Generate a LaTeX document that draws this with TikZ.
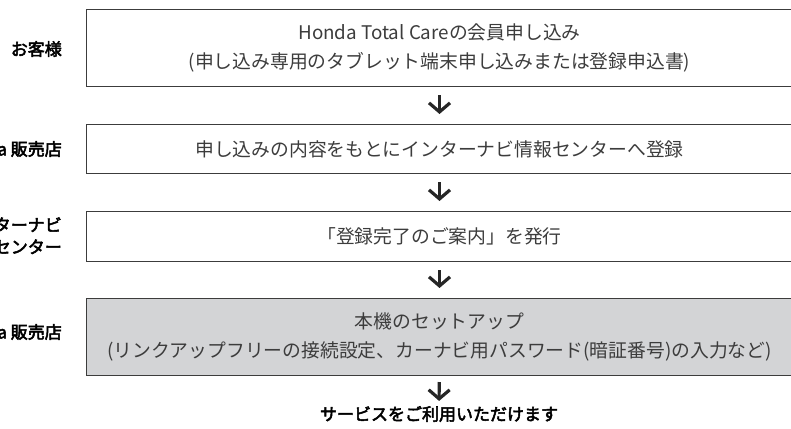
\documentclass[tikz,border=0pt]{standalone}
\usepackage{fontspec}
\newfontfamily\jpfont{Noto Sans CJK JP}
\newfontfamily\jpbold{Noto Sans CJK JP}[FakeBold=3]
\usetikzlibrary{arrows.meta}
\definecolor{boxline}{RGB}{60,60,60}
\definecolor{setupgray}{RGB}{211,212,214}
\definecolor{bodytext}{RGB}{60,60,60}
\tikzset{
  stepbox/.style={rectangle, draw=boxline, line width=1pt, anchor=north west,
                  minimum width=706pt, inner sep=0pt, align=center, text=bodytext,
                  font=\jpfont\fontsize{18.8}{29}\selectfont},
  who/.style={anchor=east, align=right, inner sep=0pt,
              font=\jpbold\fontsize{17}{22}\selectfont},
  flowarrow/.style={line width=3.2pt, black!85,
                    -{Straight Barb[length=9pt,width=21pt,line width=3.2pt]},
                    shorten <=8pt, shorten >=10pt},
}

\begin{document}
\begin{tikzpicture}[x=1pt, y=-1pt]
  \useasboundingbox (0,0) rectangle (791,428);
  \clip (0,0) rectangle (791,428);

  % steps
  \node[stepbox, minimum height=76.5pt] (apply) at (86,9.5)
    {Honda Total Careの会員申し込み\\(申し込み専用のタブレット端末申し込みまたは登録申込書)};
  \node[stepbox, minimum height=49pt] (register) at (86,124)
    {申し込みの内容をもとにインターナビ情報センターへ登録};
  \node[stepbox, minimum height=50pt] (notice) at (86,211)
    {「登録完了のご案内」を発行};
  \node[stepbox, minimum height=77pt, fill=setupgray] (setup) at (86,298)
    {本機のセットアップ\\(リンクアップフリーの接続設定、カーナビ用パスワード(暗証番号)の入力など)};
  \node[font=\jpbold\fontsize{17}{22}\selectfont, inner sep=2pt] (done) at (439,414)
    {サービスをご利用いただけます};

  % who does each step
  \node[who] (customer) at (62,49) {お客様};
  \node[who] (dealerA) at (62,149) {Honda 販売店};
  \node[who] (center) at (62,236) {インターナビ\\情報センター};
  \node[who] (dealerB) at (62,332) {Honda 販売店};

  % arrows
  \draw[flowarrow] (apply) -- (register);
  \draw[flowarrow] (register) -- (notice);
  \draw[flowarrow] (notice) -- (setup);
  \draw[flowarrow, shorten <=6pt, shorten >=3pt] (setup) -- (done);
\end{tikzpicture}
\end{document}
